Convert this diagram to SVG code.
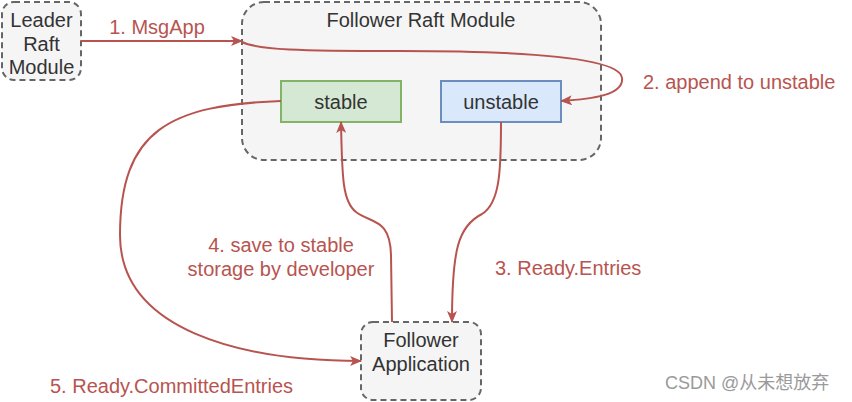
<svg xmlns="http://www.w3.org/2000/svg" width="852" height="402" viewBox="0 0 852 402">
<defs>
<style>
.grp{fill:#f5f5f5;stroke:#666;stroke-width:2;stroke-dasharray:6 4}
.t{font-family:"Liberation Sans",Arial,sans-serif;font-size:20px;fill:#333;text-anchor:middle}
.lbl{font-family:"Liberation Sans",Arial,sans-serif;font-size:20px;fill:#b85450}
.edge{fill:none;stroke:#b85450;stroke-width:2}
</style>
<marker id="ah" viewBox="0 0 12 10" refX="11" refY="5" markerWidth="12" markerHeight="10" markerUnits="userSpaceOnUse" orient="auto">
<path d="M0,0 L12,5 L0,10 L3,5 z" fill="#b85450"/>
</marker>
</defs>
<rect width="852" height="402" fill="#fff"/>
<g id="follower-raft">
<rect class="grp" x="242" y="2" width="359" height="158" rx="22"/>
<text class="t" x="421" y="27">Follower Raft Module</text>
</g>
<g id="leader">
<rect class="grp" x="2" y="2" width="79" height="78" rx="12"/>
<text class="t" x="41.5" y="27">Leader</text>
<text class="t" x="41.5" y="51">Raft</text>
<text class="t" x="41.5" y="74">Module</text>
</g>
<g id="stable">
<rect x="281" y="81" width="120" height="41" fill="#d5e8d4" stroke="#82b366" stroke-width="2"/>
<text class="t" x="341" y="109">stable</text>
</g>
<g id="unstable">
<rect x="441" y="81" width="120" height="41" fill="#dae8fc" stroke="#6c8ebf" stroke-width="2"/>
<text class="t" x="501" y="109">unstable</text>
</g>
<g id="app">
<rect class="grp" x="361" y="322" width="120" height="78" rx="12"/>
<text class="t" x="421" y="347">Follower</text>
<text class="t" x="421" y="371">Application</text>
</g>
<g id="edges">
<path class="edge" d="M81,41 L242,41" marker-end="url(#ah)"/>
<path class="edge" d="M242,42 C258,50 300,51 400,51 C500,51 620,55 622,78 C624,95 592,99 561,101" marker-end="url(#ah)"/>
<path class="edge" d="M501,122 C501,170 500,203 482,214 C458,226 452,250 452,322" marker-end="url(#ah)"/>
<path class="edge" d="M392,322 L391,255 C390,218 372,224 356,212 C343,202 342,180 341,122" marker-end="url(#ah)"/>
<path class="edge" d="M281,101 C170,105 120,130 120,235 C120,330 240,361 361,361" marker-end="url(#ah)"/>
</g>
<g id="labels">
<text class="lbl" x="157" y="34" text-anchor="middle">1. MsgApp</text>
<text class="lbl" x="643" y="89">2. append to unstable</text>
<text class="lbl" x="495" y="275">3. Ready.Entries</text>
<text class="lbl" x="281" y="252" text-anchor="middle">4. save to stable</text>
<text class="lbl" x="281" y="276" text-anchor="middle">storage by developer</text>
<text class="lbl" x="50" y="393">5. Ready.CommittedEntries</text>
</g>
<text x="665" y="389" font-family="'Liberation Sans','Noto Sans CJK SC',sans-serif" font-size="18" fill="#9a9a9a">CSDN @从未想放弃</text>
</svg>
